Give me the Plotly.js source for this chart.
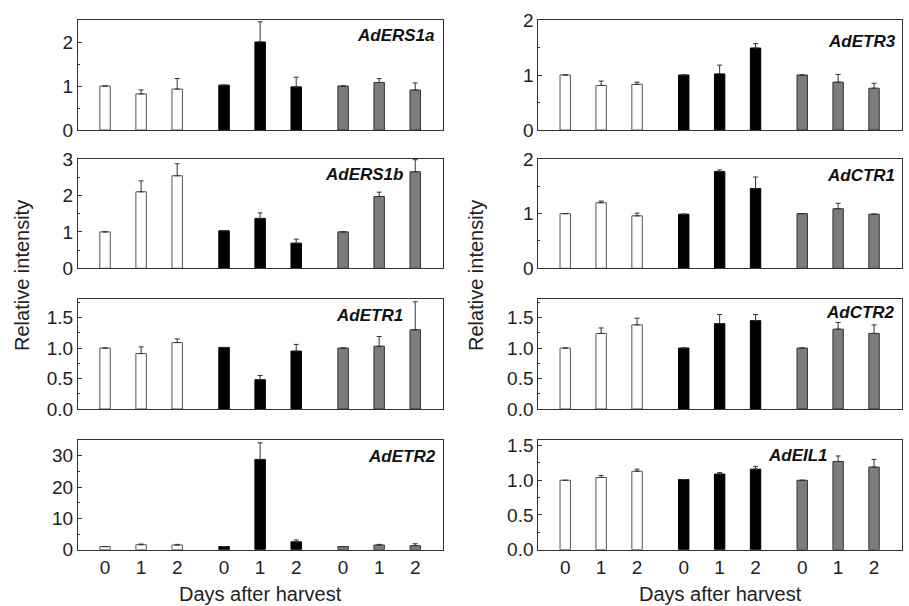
<!DOCTYPE html>
<html><head><meta charset="utf-8">
<script src="https://cdn.plot.ly/plotly-3.0.1.min.js"></script>
<style>html,body{margin:0;padding:0;background:#fff}#chart{width:909px;height:606px}</style>
</head><body><div id="chart"></div>
<script>
// Categories
const genes = ['AdERS1a','AdERS1b','AdETR1','AdETR2','AdETR3','AdCTR1','AdCTR2','AdEIL1'];
const days = ['0','1','2'];
const groupNames = ['Group A','Group B','Group C'];

// Values: white (day 0,1,2), black (day 0,1,2), gray (day 0,1,2)
const AdERS1a     = [1.00,0.82,0.93, 1.02,2.00,0.98, 1.00,1.08,0.91];
const AdERS1a_err = [0,0.09,0.24, 0,0.46,0.22, 0,0.09,0.16];
const AdERS1b     = [1.00,2.10,2.54, 1.03,1.37,0.69, 1.00,1.97,2.65];
const AdERS1b_err = [0,0.30,0.33, 0,0.15,0.11, 0,0.12,0.33];
const AdETR1      = [1.00,0.91,1.09, 1.01,0.48,0.95, 1.00,1.03,1.30];
const AdETR1_err  = [0,0.11,0.06, 0,0.07,0.11, 0,0.16,0.46];
const AdETR2      = [1.0,1.6,1.5, 1.0,28.8,2.5, 1.0,1.5,1.3];
const AdETR2_err  = [0,0.2,0.2, 0,5.3,0.6, 0,0.2,0.6];
const AdETR3      = [1.00,0.81,0.83, 1.00,1.02,1.49, 1.00,0.87,0.76];
const AdETR3_err  = [0,0.08,0.04, 0,0.16,0.08, 0,0.14,0.09];
const AdCTR1      = [1.00,1.20,0.96, 0.99,1.77,1.46, 1.00,1.09,0.99];
const AdCTR1_err  = [0,0.03,0.05, 0,0.03,0.21, 0,0.10,0];
const AdCTR2      = [1.00,1.24,1.38, 1.00,1.40,1.45, 1.00,1.31,1.24];
const AdCTR2_err  = [0,0.09,0.11, 0,0.15,0.10, 0,0.11,0.14];
const AdEIL1      = [1.00,1.04,1.13, 1.01,1.09,1.16, 1.00,1.27,1.19];
const AdEIL1_err  = [0,0.03,0.03, 0,0.02,0.04, 0,0.08,0.11];

const values = [AdERS1a,AdERS1b,AdETR1,AdETR2,AdETR3,AdCTR1,AdCTR2,AdEIL1];
const errors = [AdERS1a_err,AdERS1b_err,AdETR1_err,AdETR2_err,AdETR3_err,AdCTR1_err,AdCTR2_err,AdEIL1_err];

// Y axis settings per panel
const yMax   = [2.5, 3, 1.8, 35, 2, 2, 1.8, 1.58];
const yDtick = [1, 1, 0.5, 10, 1, 1, 0.5, 0.5];
const yMinor = [0.5, 0.5, 0.25, 5, 0.5, 0.5, 0.25, 0.25];
const yFmt   = ['', '', '.1f', '', '', '', '.1f', '.1f'];

// Label positions (fraction of plot area)
const labX = [0.983, 0.896, 0.896, 0.986, 0.989, 0.987, 0.986, 0.803];
const labY = [0.857, 0.86, 0.85, 0.854, 0.80, 0.845, 0.884, 0.856];

// Layout geometry
const W = 909, H = 606;
const colX = [[78, 443], [538.3, 901.7]];
const rowY = [[20, 130], [159, 268.3], [299.3, 409], [440, 549.7]];
const groupStep = 3.3;

const fills = ['#ffffff', '#000000', '#7c7c7c'];
const lines = ['#555555', '#000000', '#333333'];

const FONT = 'Liberation Sans, Arial, Helvetica, sans-serif';
const traces = [];
const layout = {
  width: W, height: H,
  margin: {l: 0, r: 0, t: 0, b: 0},
  paper_bgcolor: '#fff', plot_bgcolor: '#fff',
  showlegend: false,
  font: {family: FONT, color: '#222', size: 17},
  annotations: [],
  barmode: 'overlay'
};

const xpos = (g, d) => g * groupStep + d;
const tickvals = [], ticktext = [];
for (let g = 0; g < 3; g++) for (let d = 0; d < 3; d++) { tickvals.push(xpos(g, d)); ticktext.push(days[d]); }

genes.forEach((gene, p) => {
  const col = p < 4 ? 0 : 1;
  const row = p % 4;
  const idx = p + 1;
  const xa = 'x' + (idx === 1 ? '' : idx);
  const ya = 'y' + (idx === 1 ? '' : idx);
  for (let g = 0; g < 3; g++) {
    const xs = [], ys = [], es = [], em = [];
    for (let d = 0; d < 3; d++) {
      xs.push(xpos(g, d));
      ys.push(values[p][g * 3 + d]);
      es.push(errors[p][g * 3 + d]);
      em.push(0);
    }
    traces.push({
      type: 'bar', x: xs, y: ys, xaxis: xa, yaxis: ya, width: 0.29,
      name: groupNames[g],
      marker: {color: fills[g], line: {color: lines[g], width: 1}},
      error_y: {type: 'data', symmetric: false, array: es, arrayminus: em,
                color: '#333', thickness: 1, width: 2.5},
      hoverinfo: 'skip'
    });
  }
  const [x0, x1] = colX[col];
  const [yt, yb] = rowY[row];
  layout['xaxis' + (idx === 1 ? '' : idx)] = {
    domain: [x0 / W, x1 / W], anchor: ya,
    range: [-0.75, 9.37], showgrid: false, zeroline: false,
    showline: true, mirror: true, linecolor: '#333', linewidth: 1,
    ticks: '', tickvals: tickvals, ticktext: ticktext,
    showticklabels: row === 3, tickfont: {size: 19, family: FONT, color: '#222'},
    fixedrange: true
  };
  layout['yaxis' + (idx === 1 ? '' : idx)] = {
    domain: [1 - yb / H, 1 - yt / H], anchor: xa,
    range: [0, yMax[p]], dtick: yDtick[p], tick0: 0, tickformat: yFmt[p],
    showgrid: false, zeroline: false,
    showline: true, mirror: true, linecolor: '#333', linewidth: 1,
    ticks: 'inside', ticklen: 4, tickcolor: '#333',
    minor: {ticks: 'inside', ticklen: 2, dtick: yMinor[p], tick0: 0, tickcolor: '#333', showgrid: false},
    tickfont: {size: 19, family: FONT, color: '#222'},
    fixedrange: true
  };
  layout.annotations.push({
    text: '<b><i>' + gene + '</i></b>', xref: xa + ' domain', yref: ya + ' domain',
    x: labX[p], y: labY[p], xanchor: 'right', yanchor: 'middle', showarrow: false,
    font: {size: 17, family: FONT, color: '#111'}
  });
});

// Axis titles as annotations
[22, 476].forEach(xc => layout.annotations.push({
  text: 'Relative intensity', xref: 'paper', yref: 'paper',
  x: xc / W, y: 1 - 276 / H, xanchor: 'center', yanchor: 'middle',
  textangle: -90, showarrow: false, font: {size: 20, family: FONT, color: '#222'}
}));
colX.forEach(([a, b]) => layout.annotations.push({
  text: 'Days after harvest', xref: 'paper', yref: 'paper',
  x: (a + b) / 2 / W, y: 1 - 594 / H, xanchor: 'center', yanchor: 'middle',
  showarrow: false, font: {size: 20, family: FONT, color: '#222'}
}));

Plotly.newPlot('chart', traces, layout, {staticPlot: true, displayModeBar: false});
</script>
</body></html>
